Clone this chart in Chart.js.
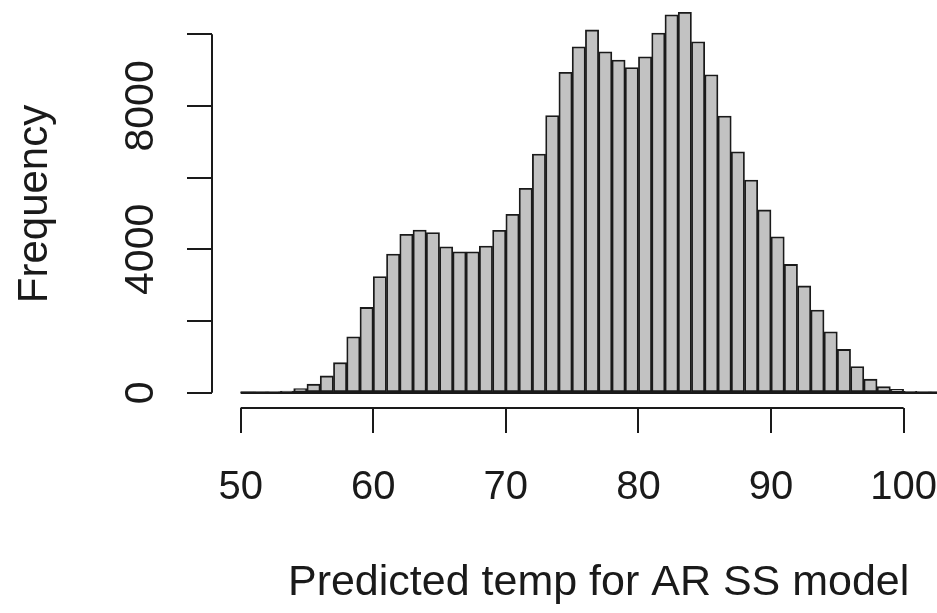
<!DOCTYPE html>
<html>
<head>
<meta charset="utf-8">
<title>Predicted temp histogram</title>
<script src="https://cdn.jsdelivr.net/npm/chart.js@4.4.1/dist/chart.umd.min.js"></script>
<style>
  html, body { margin: 0; padding: 0; background: #fff; overflow: hidden; }
  #wrap { width: 1000px; height: 613px; }
</style>
</head>
<body>
<div id="wrap"><canvas id="hist" width="1000" height="613"></canvas></div>
<script>
// histogram bins, width 1, from 50 to 104
const binMids = [
  50.5, 51.5, 52.5, 53.5, 54.5, 55.5, 56.5, 57.5, 58.5, 59.5,
  60.5, 61.5, 62.5, 63.5, 64.5, 65.5, 66.5, 67.5, 68.5, 69.5,
  70.5, 71.5, 72.5, 73.5, 74.5, 75.5, 76.5, 77.5, 78.5, 79.5,
  80.5, 81.5, 82.5, 83.5, 84.5, 85.5, 86.5, 87.5, 88.5, 89.5,
  90.5, 91.5, 92.5, 93.5, 94.5, 95.5, 96.5, 97.5, 98.5, 99.5,
  100.5, 101.5, 102.5, 103.5
];
const counts = [
  5, 10, 20, 45, 120, 240, 470, 840, 1560, 2380,
  3240, 3870, 4420, 4540, 4470, 4070, 3930, 3930, 4090, 4530,
  4980, 5700, 6660, 7730, 8940, 9650, 10120, 9510, 9280, 9070,
  9370, 10030, 10540, 10610, 9790, 8870, 7720, 6720, 5930, 5100,
  4350, 3580, 2980, 2310, 1700, 1210, 730, 380, 170, 95,
  40, 15, 6, 2
];
const binWidth = 1;
const xTicks = [50, 60, 70, 80, 90, 100];
const yTicks = [0, 2000, 4000, 6000, 8000, 10000];
const yLabelTicks = [0, 4000, 8000];
const xTitle = 'Predicted temp for AR SS model';
const yTitle = 'Frequency';

const FONT = "'Liberation Sans', Arial, Helvetica, sans-serif";
const INK = '#1a1a1a';

// R style axes: the line only runs from first to last tick,
// and y labels are written along the axis
const rAxes = {
  id: 'rAxes',
  afterDatasetsDraw(chart) {
    // hist() draws the bottom edge of every bin, even the near-empty ones
    const { ctx, scales: { x, y } } = chart;
    ctx.save();
    ctx.strokeStyle = INK;
    ctx.lineWidth = 2.6;
    ctx.beginPath();
    ctx.moveTo(x.getPixelForValue(binMids[0] - binWidth / 2), y.getPixelForValue(0));
    ctx.lineTo(x.getPixelForValue(binMids[binMids.length - 1] + binWidth / 2), y.getPixelForValue(0));
    ctx.stroke();
    ctx.restore();
  },
  afterDraw(chart) {
    const { ctx, chartArea, scales: { x, y } } = chart;
    ctx.save();
    ctx.strokeStyle = INK;
    ctx.lineWidth = 2;
    ctx.beginPath();
    ctx.moveTo(x.getPixelForValue(xTicks[0]), chartArea.bottom);
    ctx.lineTo(x.getPixelForValue(xTicks[xTicks.length - 1]), chartArea.bottom);
    ctx.moveTo(chartArea.left, y.getPixelForValue(yTicks[0]));
    ctx.lineTo(chartArea.left, y.getPixelForValue(yTicks[yTicks.length - 1]));
    ctx.stroke();

    ctx.fillStyle = INK;
    ctx.font = '41px ' + FONT;
    ctx.textAlign = 'center';
    ctx.textBaseline = 'alphabetic';
    yLabelTicks.forEach(v => {
      ctx.save();
      ctx.translate(chartArea.left - 59, y.getPixelForValue(v));
      ctx.rotate(-Math.PI / 2);
      ctx.fillText(String(v), 0, 0);
      ctx.restore();
    });
    ctx.restore();
  }
};

new Chart(document.getElementById('hist'), {
  type: 'bar',
  data: {
    datasets: [{
      data: binMids.map((m, i) => ({ x: m, y: counts[i] })),
      backgroundColor: '#c2c2c2',
      borderColor: INK,
      borderWidth: 1.8,
      borderSkipped: false,
      barPercentage: 1,
      categoryPercentage: 1
    }]
  },
  options: {
    responsive: false,
    animation: false,
    events: [],
    layout: { padding: { left: 0, top: 0, right: 14.7, bottom: 0 } },
    plugins: {
      legend: { display: false },
      tooltip: { enabled: false }
    },
    scales: {
      x: {
        type: 'linear',
        min: 47.84,
        max: 106.16,
        offset: false,
        afterBuildTicks: scale => { scale.ticks = xTicks.map(v => ({ value: v })); },
        afterFit: scale => { scale.height = 205; },
        border: { display: false },
        grid: {
          offset: false,
          drawOnChartArea: false,
          drawTicks: true,
          tickLength: 25,
          lineWidth: 2,
          tickColor: INK
        },
        ticks: {
          color: INK,
          padding: 31,
          maxRotation: 0,
          font: { family: FONT, size: 40 }
        },
        title: {
          display: true,
          text: xTitle,
          color: INK,
          font: { family: FONT, size: 43 },
          padding: { top: 0, bottom: 4 }
        }
      },
      y: {
        min: -424,
        max: 10954,
        afterBuildTicks: scale => { scale.ticks = yTicks.map(v => ({ value: v })); },
        afterFit: scale => { scale.width = 212; },
        border: { display: false },
        grid: {
          drawOnChartArea: false,
          drawTicks: true,
          tickLength: 25,
          lineWidth: 2,
          tickColor: INK
        },
        ticks: { display: false },
        title: {
          display: true,
          text: yTitle,
          color: INK,
          font: { family: FONT, size: 42 },
          padding: { top: 10, bottom: 0 }
        }
      }
    }
  },
  plugins: [rAxes]
});
</script>
</body>
</html>
